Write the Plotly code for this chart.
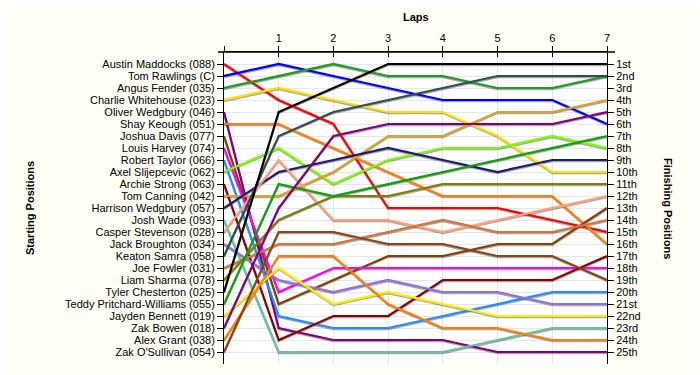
import plotly.graph_objects as go

drivers = [
    "Austin Maddocks (088)", "Tom Rawlings (C)", "Angus Fender (035)",
    "Charlie Whitehouse (023)", "Oliver Wedgbury (046)", "Shay Keough (051)",
    "Joshua Davis (077)", "Louis Harvey (074)", "Robert Taylor (066)",
    "Axel Slijepcevic (062)", "Archie Strong (063)", "Tom Canning (042)",
    "Harrison Wedgbury (057)", "Josh Wade (093)", "Casper Stevenson (028)",
    "Jack Broughton (034)", "Keaton Samra (058)", "Joe Fowler (031)",
    "Liam Sharma (078)", "Tyler Chesterton (025)", "Teddy Pritchard-Williams (055)",
    "Jayden Bennett (019)", "Zak Bowen (018)", "Alex Grant (038)", "Zak O'Sullivan (054)",
]
colors = [
    "#FF0000", "#0000FF", "#1E9E1E", "#FFE000", "#800080", "#FF8000",
    "#844200", "#FF00FF", "#1E90FF", "#7CFC00", "#8B0000", "#DAA520",
    "#1C1C6E", "#66C2A5", "#FFA07A", "#9370DB", "#2F4F4F", "#D2773A",
    "#808000", "#000000", "#10A010", "#FFF000", "#800080", "#FF8000", "#8B4513",
]
laps = [0, 1, 2, 3, 4, 5, 6, 7]
lap0 = list(range(1, 26))
lap1 = [4, 1, 2, 3, 23, 6, 21, 20, 22, 8, 24, 12, 10, 25, 9, 19, 7, 16, 14, 5, 11, 18, 13, 17, 15]
lap2 = [6, 2, 1, 4, 24, 8, 19, 18, 23, 11, 22, 10, 9, 25, 14, 20, 5, 16, 12, 3, 12, 21, 7, 17, 15]
lap3 = [13, 3, 2, 5, 24, 10, 17, 18, 23, 9, 22, 7, 8, 25, 14, 19, 4, 15, 12, 1, 11, 20, 6, 21, 16]
lap4 = [13, 4, 2, 5, 24, 12, 17, 18, 22, 8, 19, 7, 9, 25, 15, 20, 3, 14, 11, 1, 10, 21, 6, 23, 16]
lap5 = [13, 4, 3, 7, 25, 12, 16, 18, 21, 8, 19, 5, 10, 24, 14, 20, 2, 15, 11, 1, 9, 22, 6, 23, 17]
lap6 = [14, 4, 3, 10, 25, 12, 16, 18, 20, 7, 19, 5, 9, 23, 13, 21, 2, 15, 11, 1, 8, 22, 6, 24, 17]
lap7 = [15, 6, 2, 10, 25, 16, 13, 18, 20, 8, 17, 4, 9, 23, 12, 21, 2, 14, 11, 1, 7, 22, 5, 24, 19]
finish_labels = ["1st", "2nd", "3rd"] + [f"{i}th" for i in range(4, 21)] + ["21st", "22nd", "23rd", "24th", "25th"]
lap_labels = ["", "1", "2", "3", "4", "5", "6", "7"]

all_laps = [lap0, lap1, lap2, lap3, lap4, lap5, lap6, lap7]

FONT = "Liberation Sans, Arial, sans-serif"
PLOT_H = 312
ROWS = 26
px = ROWS / PLOT_H  # one pixel in position units (for the shadow axis)

fig = go.Figure()
# anchor traces for base axes
fig.add_trace(go.Scatter(x=[0], y=[1], mode="markers", marker=dict(opacity=0),
                         showlegend=False, hoverinfo="skip"))
fig.add_trace(go.Scatter(x=[0], y=[1], yaxis="y2", mode="markers",
                         marker=dict(opacity=0), showlegend=False, hoverinfo="skip"))
fig.add_trace(go.Scatter(x=[0], y=[1], xaxis="x2", mode="markers",
                         marker=dict(opacity=0), showlegend=False, hoverinfo="skip"))
# shadows (drawn on an overlay axis shifted by ~1px)
for i, name in enumerate(drivers):
    ys = [lp[i] for lp in all_laps]
    fig.add_trace(go.Scatter(x=laps, y=ys, yaxis="y3", mode="lines",
                             line=dict(color="rgba(60,60,60,0.45)", width=2),
                             hoverinfo="skip", showlegend=False))
# the lines
for i, name in enumerate(drivers):
    ys = [lp[i] for lp in all_laps]
    fig.add_trace(go.Scatter(x=laps, y=ys, yaxis="y4", mode="lines", name=name,
                             line=dict(color=colors[i], width=2.2),
                             hoverinfo="name+y", showlegend=False))

axis_font = dict(family=FONT, size=11, color="black")
fig.update_layout(
    width=700, height=375,
    margin=dict(l=216, r=101, t=44, b=19),
    paper_bgcolor="#FFFFF6", plot_bgcolor="white",
    showlegend=False,
    font=axis_font,
    xaxis=dict(side="top", range=[0, 7], tickvals=laps, ticktext=lap_labels,
               ticks="outside", ticklen=5, tickcolor="black", showline=True,
               linecolor="black", linewidth=1, showgrid=True, gridcolor="#E6E6E6",
               zeroline=False, tickfont=axis_font, fixedrange=True),
    xaxis2=dict(overlaying="x", side="top", range=[0, 7], tickvals=laps,
                showticklabels=False, ticks="inside", ticklen=5, tickcolor="black",
                showgrid=False, zeroline=False, showline=False, anchor="y"),
    yaxis=dict(range=[ROWS, 0], tickvals=lap0, ticktext=drivers, ticks="outside",
               ticklen=6, tickcolor="black", showline=True, linecolor="black",
               linewidth=1, showgrid=True, gridcolor="#E6E6E6", zeroline=False,
               tickfont=axis_font),
    yaxis2=dict(overlaying="y", side="right", range=[ROWS, 0], tickvals=lap0,
                ticktext=finish_labels, ticks="outside", ticklen=6, tickcolor="black",
                showline=True, linecolor="black", linewidth=1, showgrid=False,
                zeroline=False, tickfont=axis_font, anchor="x"),
    yaxis3=dict(overlaying="y", range=[ROWS - 1.2 * px, -1.2 * px], visible=False),
    yaxis4=dict(overlaying="y", range=[ROWS, 0], visible=False),
    annotations=[
        dict(text="<b>Laps</b>", xref="paper", yref="paper", x=0.5, y=1,
             yanchor="middle", xanchor="center",
             yshift=35, showarrow=False, font=dict(family=FONT, size=11)),
        dict(text="<b>Starting Positions</b>", xref="paper", yref="paper",
             x=0, xshift=-194, y=0.5, xanchor="center", yanchor="middle",
             textangle=-90, showarrow=False, font=dict(family=FONT, size=11)),
        dict(text="<b>Finishing Positions</b>", xref="paper", yref="paper",
             x=1, xshift=61, y=0.5, xanchor="center", yanchor="middle",
             textangle=90, showarrow=False, font=dict(family=FONT, size=11)),
    ],
    shapes=[dict(type="line", xref="paper", yref="paper", x0=-6 / 383, x1=1 + 8 / 383,
                 y0=1, y1=1, line=dict(color="black", width=1.5))],
)
fig.write_html("out.html")
